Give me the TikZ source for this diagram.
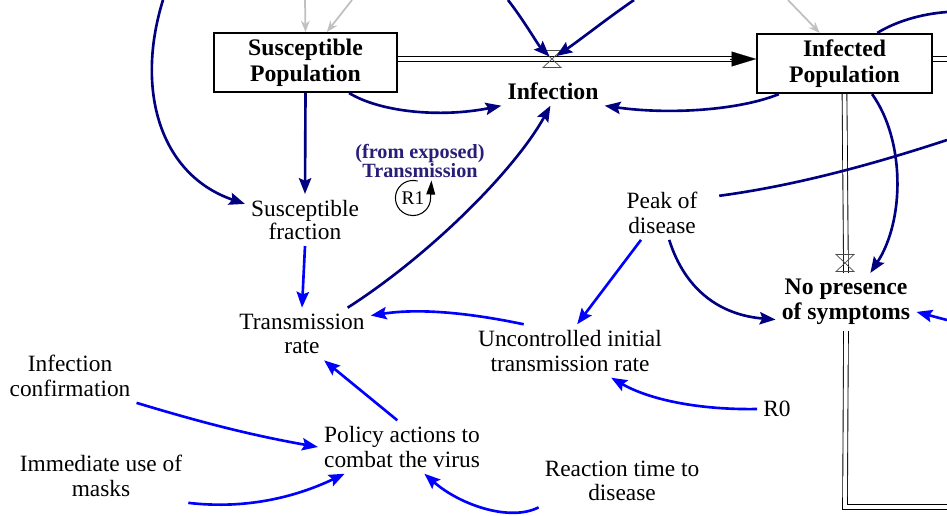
\documentclass[tikz,border=0pt]{standalone}
\usepackage{fontspec}
\setmainfont{Liberation Serif}
\usetikzlibrary{arrows.meta,calc}

\definecolor{linknavy}{RGB}{0,0,128}
\definecolor{linkblue}{RGB}{0,0,255}
\definecolor{loopnavy}{RGB}{40,30,120}
\definecolor{ghostgray}{RGB}{192,192,192}

\begin{document}
\begin{tikzpicture}[x=0.02cm, y=-0.02cm,
    every node/.style={font=\fontsize{13.3}{14}\selectfont, align=center},
    stock/.style={draw, line width=1pt, fill=white, minimum width=104pt, minimum height=32pt,
        font=\fontsize{13.5}{14.8}\selectfont\bfseries},
    rate/.style={font=\fontsize{13.5}{14.3}\selectfont\bfseries},
    looptext/.style={text=loopnavy, font=\fontsize{11.5}{10.5}\selectfont\bfseries},
    pipe/.style={draw=black, line width=0.5pt, double=white, double distance=2.2pt},
    flowhead/.style={line width=0.1pt, -{Triangle[length=14pt, width=8.5pt]}},
    navyarrow/.style={draw=linknavy, line width=1.5pt, -{Stealth[length=9pt, width=7pt, inset=1.5pt]}},
    navyline/.style={draw=linknavy, line width=1.5pt},
    bluearrow/.style={draw=linkblue, line width=1.5pt, -{Stealth[length=9pt, width=7pt, inset=1.5pt]}},
    grayarrow/.style={draw=ghostgray, line width=1pt, -{Stealth[length=6.5pt, width=5pt]}},
    valve/.pic={\draw[line width=0.4pt, draw=black!70] (-9,-8.5) -- (9,-8.5) -- (-9,8.5) -- (9,8.5) -- cycle;}]

    \useasboundingbox (0,0) rectangle (947,515);

    \node[stock] (sp) at (305.5,62.5) {Susceptible\\Population};
    \node[stock, minimum width=99.6pt, minimum height=30pt] (ip) at (844.5,63.5) {Infected\\Population};
    \node[rate] (inf) at (553,91) {Infection};
    \node[rate] (np) at (846,302) {No presence\\of symptoms};
    \node[font=\fontsize{13.3}{11.5}\selectfont] (sf) at (305,220) {Susceptible\\fraction};
    \node (tr) at (302,334) {Transmission\\rate};
    \node (pd) at (662,213) {Peak of\\disease};
    \node (uitr) at (570,351) {Uncontrolled initial\\transmission rate};
    \node (ic) at (70,376) {Infection\\confirmation};
    \node (pa) at (402,447) {Policy actions to\\combat the virus};
    \node (imu) at (101,476) {Immediate use of\\masks};
    \node (rt) at (622,481) {Reaction time to\\disease};
    \node (rzero) at (777,409) {R0};
    \node[looptext] (loopname) at (420,161) {(from exposed)\\Transmission};
    \node[font=\fontsize{11}{12}\selectfont] (rone) at (413,198) {R1};

    \coordinate (v1) at (552,59);
    \coordinate (v2) at (845,263);
    \coordinate (corner) at (845,507);
    \coordinate (sinkout) at (947,507);
    \coordinate (pipeout) at (947,59);
    \coordinate (topleft) at (163,0);
    \coordinate (topv1) at (508,0);
    \coordinate (topv2) at (634,0);
    \coordinate (rightip) at (947,12);
    \coordinate (rightpd) at (947,140);
    \coordinate (rightnp) at (947,320);
    \coordinate (grayA) at (305,0);
    \coordinate (grayB) at (352,0);
    \coordinate (grayC) at (788,0);

    \draw[pipe, shorten >=14pt] (sp.east |- v1) -- (ip.west |- v1);
    \draw[flowhead] ($(ip.west |- v1)+(-26,0)$) -- (ip.west |- v1);
    \draw[pipe] (ip.east |- v1) -- (pipeout);
    \draw[pipe] (ip.south) -- (np.north);
    \draw[pipe] (np.south) -- (corner) -- (sinkout);
    \pic at (v1) {valve};
    \pic at (v2) {valve};

    \draw[grayarrow] (grayA) -- (sp.north);
    \draw[grayarrow] (grayB) -- (sp.55);
    \draw[grayarrow] (grayC) -- (ip.129);

    \draw[navyarrow] (topleft) .. controls (135,90) and (160,175) .. (sf.165);
    \draw[navyarrow] (sp.south) -- (sf.north);
    \draw[navyarrow] (sp.-35) .. controls (380,112) and (440,118) .. (inf.south west);
    \draw[navyarrow, shorten >=2pt] (topv1) .. controls (525,22) and (538,45) .. (v1);
    \draw[navyarrow, shorten >=3pt] (topv2) .. controls (605,20) and (580,40) .. (v1);
    \draw[navyarrow] (ip.-155) .. controls (740,110) and (670,115) .. (inf.south east);
    \draw[navyline] (ip.43) .. controls (895,22) and (920,14) .. (rightip);
    \draw[navyarrow] (ip.-48) .. controls (905,140) and (905,220) .. (np.50);
    \draw[navyline, shorten <=9pt] (pd.20) .. controls (800,185) and (880,162) .. (rightpd);
    \draw[navyarrow] (pd.-75) .. controls (685,290) and (720,315) .. (np.194);
    \draw[navyarrow] (tr.30) .. controls (430,255) and (515,170) .. (inf.-100);

    \draw[bluearrow] (sf.south) -- (tr.north);
    \draw[bluearrow] (uitr.150) .. controls (470,313) and (420,308) .. (tr.15);
    \draw[bluearrow] (pd.-128) -- (uitr.75);
    \draw[bluearrow] (pa.100) -- (tr.-50);
    \draw[bluearrow] (ic.south east) .. controls (200,422) and (250,435) .. (pa.west);
    \draw[bluearrow] (imu.south east) .. controls (250,510) and (300,495) .. (pa.-155);
    \draw[bluearrow] (rt.south west) .. controls (510,522) and (460,505) .. (pa.-50);
    \draw[bluearrow] (rzero.west) .. controls (700,410) and (650,400) .. (uitr.-33);
    \draw[bluearrow] (rightnp) -- (np.-8);

    \begin{scope}[shift={(rone.center)}, x=1pt, y=1pt]
        \draw[line width=0.6pt, -{Triangle[length=8pt, width=5pt]}] (75:10) arc[start angle=75, end angle=360, radius=10] -- ++(0.5,10);
    \end{scope}
\end{tikzpicture}
\end{document}
